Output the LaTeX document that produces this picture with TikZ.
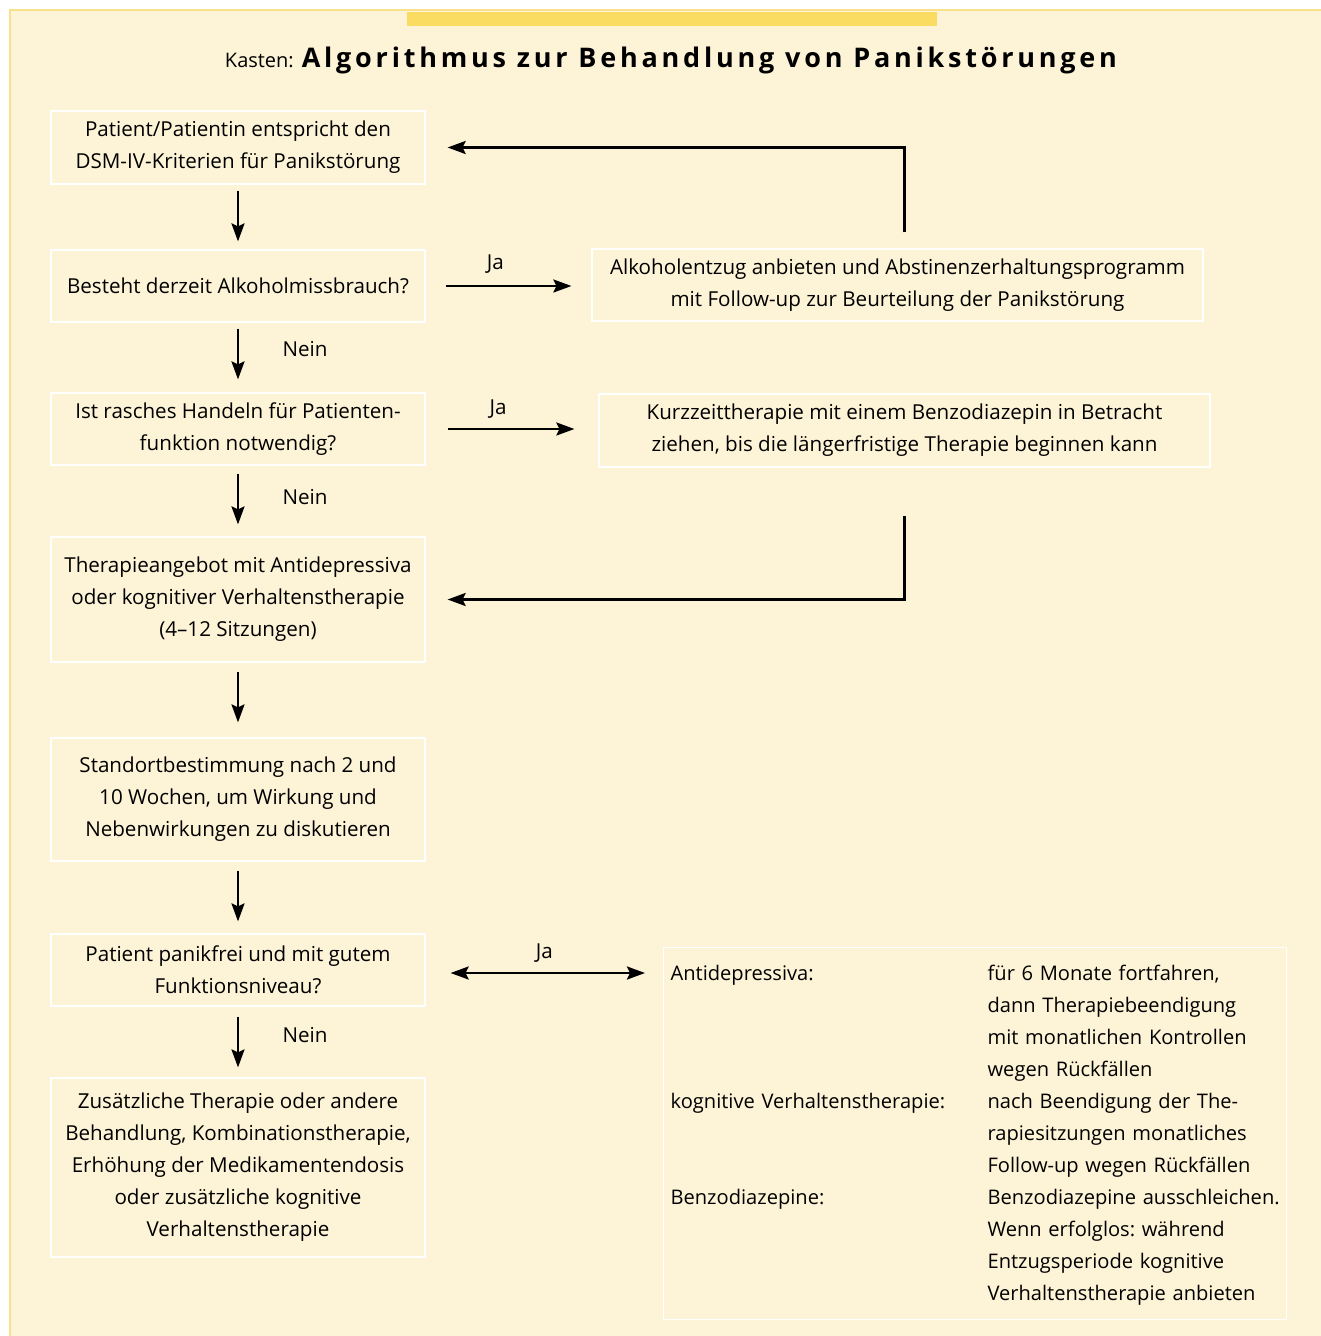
\documentclass[tikz,border=0pt]{standalone}
\usepackage{fontspec}
\setmainfont{Open Sans}
\usetikzlibrary{arrows.meta,calc}
\definecolor{paper}{RGB}{253,243,214}
\definecolor{rim}{RGB}{250,226,140}
\definecolor{bar}{RGB}{251,220,98}
\frenchspacing

\begin{document}
\begin{tikzpicture}[x=1pt,y=-1pt,>={Stealth[length=18pt,width=13pt,inset=3pt]},
  every node/.style={font=\fontsize{20.6}{32}\selectfont,align=center},
  box/.style={draw=white,line width=1.2pt,minimum width=374pt,inner sep=0pt},
  flow/.style={->,line width=2.4pt}]
\useasboundingbox (0,0) rectangle (1321,1336);
\fill[paper] (10,10) rectangle (1321,1336);
\draw[rim,line width=2pt] (10,1336) -- (10,10) -- (1321,10);
\fill[bar] (407,12) rectangle (937,26);
\node (title) at (671,60) {\fontsize{20}{24}\selectfont Kasten:\hspace{8pt}{\fontsize{27}{30}\selectfont\bfseries\addfontfeature{LetterSpace=14}Algorithmus zur Behandlung von Panikstörungen}};
% left column
\node[box,minimum height=73pt] (patient) at (238,147.5)
  {Patient/Patientin entspricht den\\DSM-IV-Kriterien für Panikstörung};
\node[box,minimum height=72pt] (alkohol) at (238,286)
  {Besteht derzeit Alkoholmissbrauch?};
\node[box,minimum height=72pt] (rasch) at (238,429)
  {Ist rasches Handeln für Patienten-\\funktion notwendig?};
\node[box,minimum height=125pt] (therapie) at (238,599.5)
  {Therapieangebot mit Antidepressiva\\oder kognitiver Verhaltenstherapie\\(4--12 Sitzungen)};
\node[box,minimum height=123pt] (standort) at (238,799.5)
  {Standortbestimmung nach 2 und\\10 Wochen, um Wirkung und\\Nebenwirkungen zu diskutieren};
\node[box,minimum height=72pt] (frei) at (238,970)
  {Patient panikfrei und mit gutem\\Funktionsniveau?};
\node[box,minimum height=179pt] (zusatz) at (238,1167.5)
  {Zusätzliche Therapie oder andere\\Behandlung, Kombinationstherapie,\\Erhöhung der Medikamentendosis\\oder zusätzliche kognitive\\Verhaltenstherapie};
% right column
\node[box,minimum width=611pt,minimum height=72pt] (entzug) at (897.5,285)
  {Alkoholentzug anbieten und Abstinenzerhaltungsprogramm\\mit Follow-up zur Beurteilung der Panikstörung};
\node[box,minimum width=611pt,minimum height=73pt] (kurz) at (904.5,430.5)
  {Kurzzeittherapie mit einem Benzodiazepin in Betracht\\ziehen, bis die längerfristige Therapie beginnen kann};
\node[box,minimum width=0pt,anchor=north west,inner xsep=7pt,inner ysep=10pt,text width=609pt,align=left,font=\fontsize{20.1}{32}\selectfont] (tab) at (663,947)
  {\begin{tabular}{@{}p{317pt}@{}l@{}}
  Antidepressiva: & für 6 Monate fortfahren,\\
   & dann Therapiebeendigung\\
   & mit monatlichen Kontrollen\\
   & wegen Rückfällen\\
  kognitive Verhaltenstherapie: & nach Beendigung der The-\\
   & rapiesitzungen monatliches\\
   & Follow-up wegen Rückfällen\\
  Benzodiazepine: & Benzodiazepine ausschleichen.\\
   & Wenn erfolglos: während\\
   & Entzugsperiode kognitive\\
   & Verhaltenstherapie anbieten
  \end{tabular}};
% connectors
\draw[flow,shorten <=6pt,shorten >=8pt] (patient) -- (alkohol);
\draw[flow,shorten <=6pt,shorten >=13pt] (alkohol) -- node[pos=.38,right=40pt]{Nein} (rasch);
\draw[flow,shorten <=8pt,shorten >=12pt] (rasch) -- node[pos=.45,right=40pt]{Nein} (therapie);
\draw[flow,shorten <=9pt,shorten >=15pt] (therapie) -- (standort);
\draw[flow,shorten <=9pt,shorten >=12pt] (standort) -- (frei);
\draw[flow,shorten <=10pt,shorten >=10pt] (frei) -- node[pos=.4,right=40pt]{Nein} (zusatz);
\draw[flow,shorten <=20pt,shorten >=20pt] (alkohol.east) -- node[pos=.42,above=8pt]{Ja} (alkohol.east -| entzug.west);
\draw[flow,shorten <=22pt,shorten >=24pt] (rasch.east) -- node[pos=.42,above=6pt]{Ja} (rasch.east -| kurz.west);
\draw[flow,<->,shorten <=25pt,shorten >=18pt] ($(frei.east)+(0,3)$) -- node[pos=.5,above=6pt]{Ja} ($(frei.east -| tab.west)+(0,3)$);
\draw[flow,shorten <=16pt,shorten >=22pt] (entzug.north -| kurz.south) |- (patient.east);
\draw[flow,shorten <=48pt,shorten >=22pt] (kurz.south) |- (therapie.east);
\end{tikzpicture}
\end{document}
